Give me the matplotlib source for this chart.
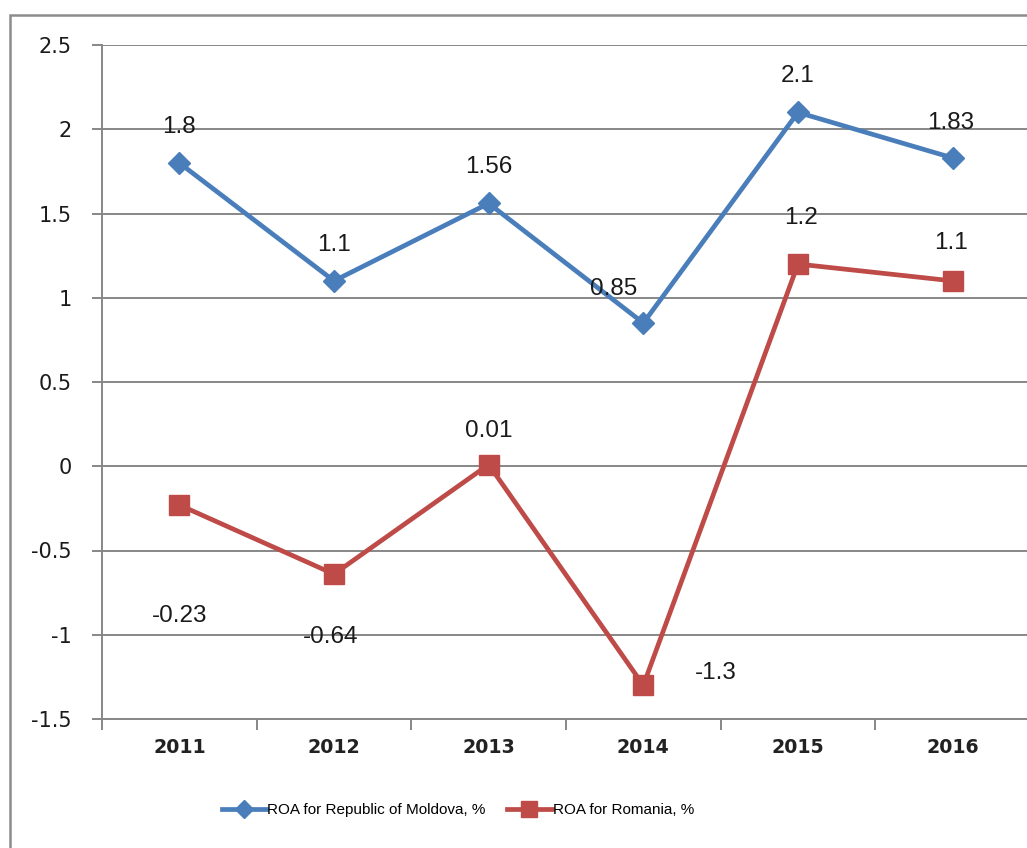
import matplotlib
matplotlib.use("Agg")
import matplotlib.pyplot as plt
from matplotlib.patches import Rectangle
from matplotlib.ticker import FixedLocator

years = ["2011", "2012", "2013", "2014", "2015", "2016"]
moldova = [1.8, 1.1, 1.56, 0.85, 2.1, 1.83]
romania = [-0.23, -0.64, 0.01, -1.3, 1.2, 1.1]
moldova_labels = ["1.8", "1.1", "1.56", "0.85", "2.1", "1.83"]
romania_labels = ["-0.23", "-0.64", "0.01", "-1.3", "1.2", "1.1"]
yticks = [-1.5, -1, -0.5, 0, 0.5, 1, 1.5, 2, 2.5]
ytick_labels = ["-1.5", "-1", "-0.5", "0", "0.5", "1", "1.5", "2", "2.5"]

# label offsets in pixels (label placement only)
md_off = [(0, 36), (0, 36), (0, 36), (-30, 34), (0, 36), (-2, 35)]
ro_off = [(0, -111), (-3, -63), (0, 34), (72, 12), (3, 46), (-2, 38)]

blue = "#4A7EBB"
red = "#BE4B48"
grid = "#878787"

fig = plt.figure(figsize=(10.27, 8.48), dpi=100)
fig.patches.append(Rectangle((10 / 1027, -0.1), 1.2, 1.1 - 15 / 848,
                             transform=fig.transFigure, fill=False,
                             edgecolor="#8c8c8c", linewidth=1.8))

ax = fig.add_axes([102 / 1027, 1 - 719 / 848, 928 / 1027, 674 / 848])
x = list(range(len(years)))

ax.plot(x, moldova, color=blue, lw=3.4, marker="D", ms=11,
        label="ROA for Republic of Moldova, %", zorder=3)
ax.plot(x, romania, color=red, lw=3.4, marker="s", ms=15,
        label="ROA for Romania, %", zorder=3)

for i in x:
    ax.annotate(moldova_labels[i], (x[i], moldova[i]), xytext=md_off[i],
                textcoords="offset pixels", ha="center", va="center",
                fontsize=17.5, family="Liberation Sans", color="#1a1a1a")
    ax.annotate(romania_labels[i], (x[i], romania[i]), xytext=ro_off[i],
                textcoords="offset pixels", ha="center", va="center",
                fontsize=17.5, family="Liberation Sans", color="#1a1a1a")

ax.set_xlim(-0.5, len(years) - 0.5)
ax.set_ylim(-1.5, 2.5)
ax.set_yticks(yticks)
ax.set_yticklabels(ytick_labels)
ax.set_xticks(x)
ax.set_xticklabels(years, fontweight="bold")
ax.xaxis.set_minor_locator(FixedLocator([i - 0.5 for i in range(len(years) + 1)]))

ax.yaxis.grid(True, color=grid, lw=1.4)
ax.set_axisbelow(True)
for s in ["top", "right"]:
    ax.spines[s].set_visible(False)
for s in ["left", "bottom"]:
    ax.spines[s].set_color(grid)
    ax.spines[s].set_linewidth(1.4)

ax.tick_params(axis="y", direction="out", length=7, width=1.4, color=grid,
               pad=15, labelsize=15, labelcolor="#1a1a1a")
ax.tick_params(axis="x", which="major", length=0, pad=14, labelsize=13.7,
               labelcolor="#222222")
ax.tick_params(axis="x", which="minor", direction="out", length=8, width=1.4,
               color=grid)

fig.legend(loc="center", bbox_to_anchor=(458 / 1027, 1 - 810 / 848), ncol=2,
           frameon=False, prop={"family": "Liberation Sans", "size": 11},
           handlelength=2.9, handletextpad=0.1, columnspacing=1.4,
           markerscale=0.8)

fig.savefig("out.png", dpi=100)
